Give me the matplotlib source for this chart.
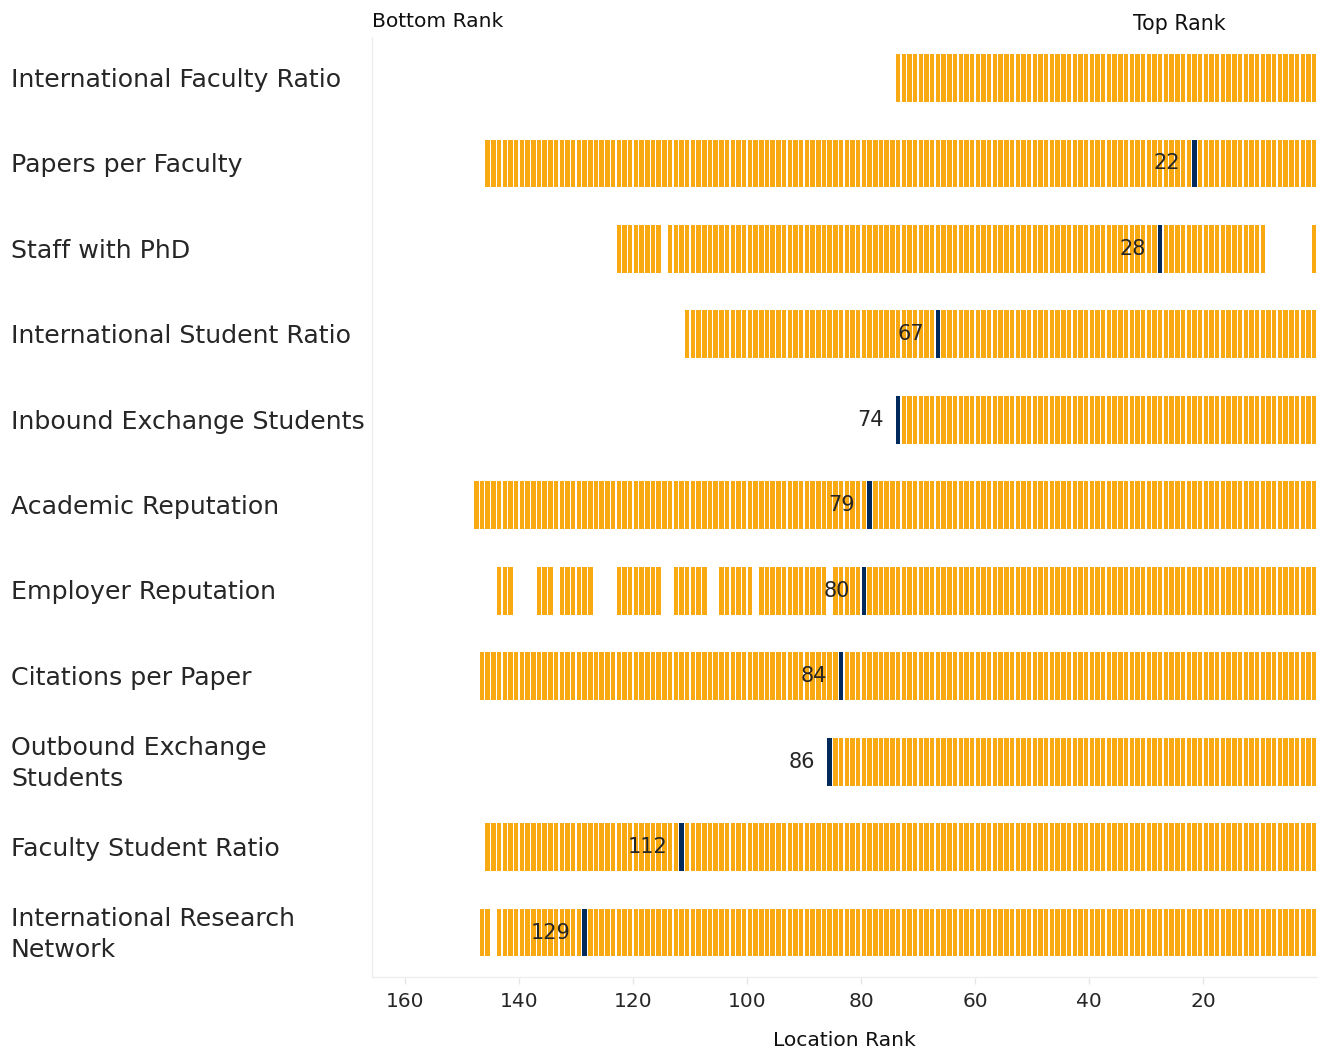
import numpy as np
import matplotlib
matplotlib.use("Agg")
import matplotlib.pyplot as plt

# ---------------- data ----------------
categories = [
    "International Faculty Ratio",
    "Papers per Faculty",
    "Staff with PhD",
    "International Student Ratio",
    "Inbound Exchange Students",
    "Academic Reputation",
    "Employer Reputation",
    "Citations per Paper",
    "Outbound Exchange\nStudents",
    "Faculty Student Ratio",
    "International Research\nNetwork",
]
highlight_ranks = [None, 22, 28, 67, 74, 79, 80, 84, 86, 112, 129]
max_ranks = [74, 146, 123, 111, 74, 148, 144, 147, 86, 146, 147]
missing_ranks = [
    [],
    [],
    [2, 3, 4, 5, 6, 7, 8, 9, 115],
    [],
    [],
    [],
    [141, 140, 139, 138, 134, 127, 126, 125, 124, 115, 114, 107, 106, 99, 86],
    [],
    [],
    [],
    [145],
]
xticks = [160, 140, 120, 100, 80, 60, 40, 20]

ORANGE = "#F9A911"
NAVY = "#002A5C"
TEXT = "#262626"

W, H = 1324, 1053
fig = plt.figure(figsize=(W / 100, H / 100), dpi=100)
ax = fig.add_axes([372 / W, 1 - 977 / H, 945 / W, 940 / H])

for i, cat in enumerate(categories):
    ranks = np.array([r for r in range(1, max_ranks[i] + 1) if r not in missing_ranks[i]])
    colors = [NAVY if r == highlight_ranks[i] else ORANGE for r in ranks]
    ax.bar(ranks - 0.5, 0.56, width=0.78, bottom=i - 0.30, color=colors, linewidth=0)
    if highlight_ranks[i] is not None:
        ax.text(highlight_ranks[i] + 2, i - 0.02, str(highlight_ranks[i]), ha="right",
                va="center", fontsize=15, color=TEXT)

ax.set_xlim(165.8, 0)
ax.set_ylim(10.5, -0.5)

ax.set_yticks(range(len(categories)))
ax.set_yticklabels(categories, fontsize=18.2, color=TEXT, ha="left", va="center")
for lbl in ax.get_yticklabels():
    lbl.set_linespacing(1.38)
ax.tick_params(axis="y", length=0, pad=260)

ax.set_xticks(xticks)
ax.set_xticklabels([str(t) for t in xticks], fontsize=14.5, color=TEXT)
ax.tick_params(axis="x", length=5, width=1, color="#E6E6E6", pad=6)
ax.set_xlabel("Location Rank", fontsize=14.6, color="#111111", labelpad=14)

for s in ["top", "right"]:
    ax.spines[s].set_visible(False)
for s in ["left", "bottom"]:
    ax.spines[s].set_color("#EFEFEF")
    ax.spines[s].set_linewidth(1)

ax.text(0.0, 1.0106, "Bottom Rank", transform=ax.transAxes, ha="left", va="baseline",
        fontsize=14.6, color="#111111")
ax.text(0.854, 1.0074, "Top Rank", transform=ax.transAxes, ha="center", va="baseline",
        fontsize=14.8, color="#111111")

fig.savefig("out.png", dpi=100)
